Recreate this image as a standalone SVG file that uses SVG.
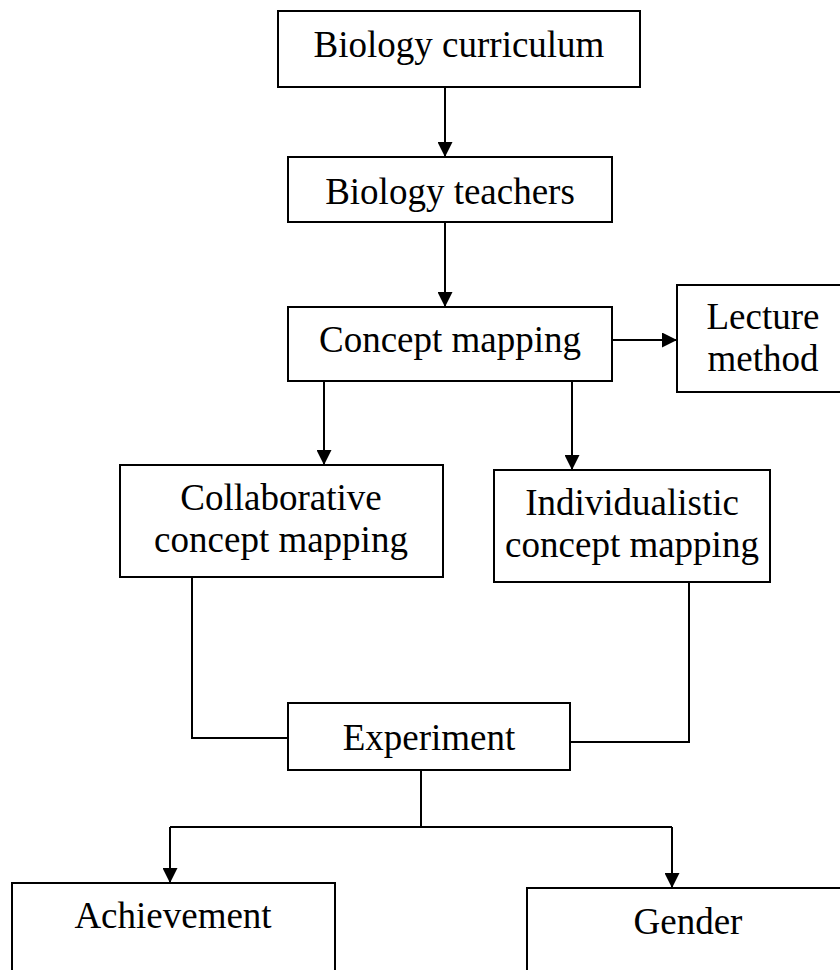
<svg xmlns="http://www.w3.org/2000/svg" width="840" height="970" viewBox="0 0 840 970">
<style>
.box{fill:#fff;stroke:#000;stroke-width:2}
.t{font-family:"Liberation Serif","Times New Roman",serif;font-size:37px;fill:#000;text-anchor:middle}
.c{fill:none;stroke:#000;stroke-width:2}
</style>
<defs>
<marker id="ah" viewBox="0 0 15 15" refX="15" refY="7.5" markerWidth="15" markerHeight="15" markerUnits="userSpaceOnUse" orient="auto">
<path d="M0,0 L15,7.5 L0,15 Z" fill="#000"/>
</marker>
</defs>
<rect width="840" height="970" fill="#fff"/>
<g id="connectors">
<path class="c" d="M445,87 V157" marker-end="url(#ah)"/>
<path class="c" d="M445,222 V307" marker-end="url(#ah)"/>
<path class="c" d="M612,340 H677" marker-end="url(#ah)"/>
<path class="c" d="M324,381 V465" marker-end="url(#ah)"/>
<path class="c" d="M572,381 V470" marker-end="url(#ah)"/>
<path class="c" d="M192,577 V738 H288"/>
<path class="c" d="M689,582 V742 H570"/>
<path class="c" d="M421,770 V827"/>
<path class="c" d="M170,827 H672"/>
<path class="c" d="M170,827 V883" marker-end="url(#ah)"/>
<path class="c" d="M672,827 V888" marker-end="url(#ah)"/>
</g>
<g id="n1"><rect class="box" x="278" y="11" width="362" height="76"/><text class="t" x="459" y="57">Biology curriculum</text></g>
<g id="n2"><rect class="box" x="288" y="157" width="324" height="65"/><text class="t" x="450" y="204">Biology teachers</text></g>
<g id="n3"><rect class="box" x="288" y="307" width="324" height="74"/><text class="t" x="450" y="352">Concept mapping</text></g>
<g id="n4"><rect class="box" x="677" y="285" width="175" height="107"/><text class="t" x="763" y="329">Lecture</text><text class="t" x="763" y="371">method</text></g>
<g id="n5"><rect class="box" x="120" y="465" width="323" height="112"/><text class="t" x="281" y="510">Collaborative</text><text class="t" x="281" y="552">concept mapping</text></g>
<g id="n6"><rect class="box" x="494" y="470" width="276" height="112"/><text class="t" x="632" y="515">Individualistic</text><text class="t" x="632" y="557">concept mapping</text></g>
<g id="n7"><rect class="box" x="288" y="703" width="282" height="67"/><text class="t" x="429" y="750">Experiment</text></g>
<g id="n8"><rect class="box" x="12" y="883" width="323" height="100"/><text class="t" x="173" y="928">Achievement</text></g>
<g id="n9"><rect class="box" x="527" y="888" width="330" height="100"/><text class="t" x="688" y="934">Gender</text></g>
</svg>
